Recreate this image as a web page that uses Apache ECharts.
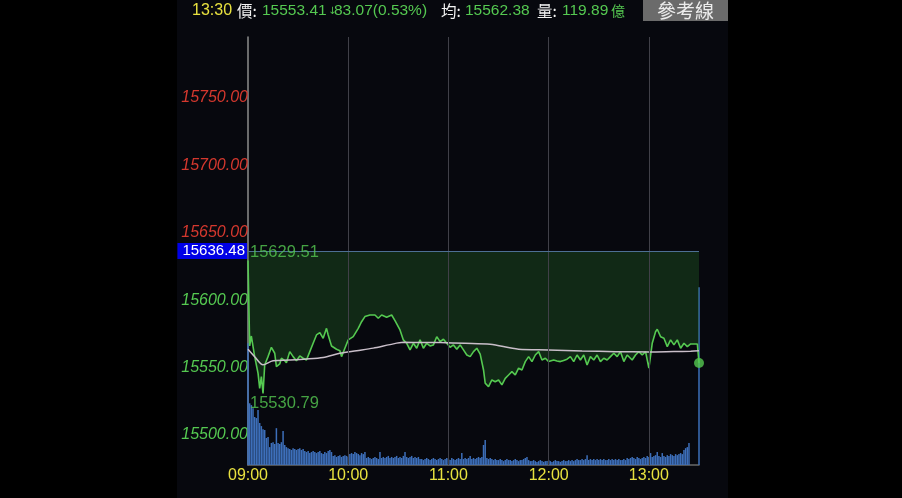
<!DOCTYPE html>
<html><head><meta charset="utf-8">
<script src="https://cdn.jsdelivr.net/npm/echarts@6/dist/echarts.min.js"></script>
<style>html,body{margin:0;padding:0;background:#000;}#c{width:902px;height:498px;}</style>
</head><body><div id="c"></div>
<script>
// ---- data ----
const refPrice = 15636.48;          // previous close (reference line)
const highPrice = 15629.51;
const lowPrice = 15530.79;
const closePrice = 15553.41;
const avgClose = 15562.38;
const changeText = '83.07(0.53%)';
const volumeTotal = '119.89';
const headerTime = '13:30';

const xTickMinutes = [0, 60, 120, 180, 240];
const xTickLabels = ['09:00', '10:00', '11:00', '12:00', '13:00'];
const yTicks = [15500, 15550, 15600, 15650, 15700, 15750];

// price line: minutes after 09:00 and index value
const priceMinute = [0,1,2,4,6,7,8,9,10,12,14,16,17,19,20,22,23,25,27,29,31,33,35,37,39,41,43,45,47,48,50,51,53,55,56,58,60,63,66,68,70,73,76,78,80,83,86,88,91,93,95,97,99,101,103,105,107,109,111,113,115,117,119,121,123,125,127,129,131,133,135,137,139,141,142,144,146,148,150,152,154,156,158,160,162,164,166,168,170,172,174,176,178,180,183,185,187,189,191,193,195,197,199,201,203,205,207,209,211,213,215,217,219,221,223,225,227,230,232,234,236,238,240,242,244,245,247,249,251,253,255,257,259,261,263,265,269,270];
const priceValue = [15629.51,15566,15573.4,15558.1,15545.8,15534.6,15543.3,15530.79,15551.9,15558.1,15565,15560.6,15550.7,15552.7,15556.9,15555.1,15553.6,15561.8,15558.1,15555.1,15558.6,15556.9,15555.6,15561.8,15568,15574.2,15575.9,15571.7,15579.1,15574.2,15566,15565.5,15563.6,15562.5,15558.1,15564.3,15570.5,15572.9,15579.1,15584,15587.8,15589,15589,15586.6,15589,15587.3,15589,15584.8,15577.9,15570.5,15568,15563.1,15568,15564.3,15570.5,15564.3,15568,15566,15566.8,15572.9,15569.2,15571,15568,15565,15566.8,15563.5,15566.8,15563.1,15559.3,15558.1,15561.8,15564.3,15560,15548.2,15538.4,15535.8,15540.8,15539.5,15540.8,15537.1,15542,15544.5,15547,15544.5,15549.5,15548.2,15554.4,15558.1,15554.4,15559.3,15561.8,15555.6,15556.9,15554.4,15555.6,15554.9,15554.4,15555.3,15556.2,15558.1,15554.4,15559.3,15555.6,15559.3,15551.9,15558.1,15555.6,15559.3,15554.4,15556.9,15555.6,15558.1,15560.6,15558.1,15561.8,15554.4,15559.3,15555.6,15559.3,15561.8,15559.3,15561.8,15549.5,15568,15576.6,15578.4,15572.9,15571.7,15565.5,15570.5,15566.8,15570.5,15564.3,15568,15565.5,15567.5,15567.5,15553.41];

// average price line
const avgMinute = [0,4,9,15,25,35,45,55,65,75,85,93,105,115,130,145,162,180,200,220,240,255,265,270];
const avgValue = [15563.5,15558,15552,15555.1,15555.6,15556.3,15557.5,15560.6,15562.5,15564.4,15567,15568.7,15568.6,15568.5,15568,15567.3,15563.6,15563.1,15562.3,15561.8,15561.6,15561.9,15562.1,15562.38];

// per-minute volume (億), minutes 0..264, then closing auction at 270
const volumeValue = [
4.69,2.38,2.31,2.19,1.85,1.81,2.12,1.62,1.50,1.38,
1.35,1.04,1.08,0.69,0.85,0.88,0.81,1.42,0.85,0.81,
0.88,1.31,0.77,0.69,0.65,0.62,0.58,0.65,0.62,0.58,
0.62,0.65,0.58,0.62,0.54,0.50,0.54,0.46,0.50,0.54,
0.50,0.46,0.50,0.54,0.46,0.42,0.50,0.46,0.54,0.58,
0.50,0.35,0.38,0.31,0.35,0.38,0.31,0.35,0.38,0.35,
0.31,0.42,0.46,0.42,0.50,0.46,0.42,0.38,0.46,0.42,
0.50,0.27,0.31,0.27,0.23,0.27,0.31,0.27,0.23,0.50,
0.27,0.31,0.27,0.31,0.35,0.27,0.31,0.27,0.31,0.35,
0.27,0.31,0.27,0.35,0.50,0.31,0.27,0.31,0.35,0.27,
0.31,0.27,0.31,0.23,0.23,0.19,0.23,0.27,0.23,0.19,
0.23,0.27,0.23,0.19,0.23,0.27,0.23,0.19,0.23,0.27,
0.23,0.19,0.27,0.23,0.19,0.23,0.27,0.23,0.46,0.23,
0.27,0.23,0.27,0.35,0.23,0.27,0.23,0.27,0.31,0.27,
0.31,0.77,0.96,0.27,0.23,0.27,0.23,0.19,0.23,0.19,
0.19,0.23,0.19,0.15,0.19,0.23,0.19,0.19,0.15,0.19,
0.23,0.19,0.15,0.19,0.19,0.23,0.27,0.31,0.19,0.15,
0.15,0.19,0.15,0.12,0.15,0.19,0.15,0.12,0.15,0.15,
0.19,0.15,0.12,0.15,0.19,0.15,0.15,0.12,0.15,0.19,
0.15,0.15,0.19,0.15,0.19,0.15,0.19,0.23,0.19,0.19,
0.23,0.19,0.23,0.38,0.19,0.23,0.19,0.23,0.19,0.23,
0.19,0.23,0.19,0.23,0.19,0.19,0.23,0.19,0.23,0.19,
0.23,0.19,0.23,0.19,0.19,0.23,0.19,0.27,0.23,0.27,
0.31,0.27,0.23,0.31,0.27,0.23,0.27,0.31,0.27,0.35,
0.31,0.46,0.31,0.35,0.38,0.50,0.35,0.31,0.46,0.35,
0.31,0.38,0.35,0.42,0.38,0.35,0.42,0.38,0.42,0.46,
0.42,0.58,0.65,0.69,0.85];
const closingVolumeMinute = 270;
const closingVolume = 6.85;

// ---- chart ----
const GREEN = '#55c951', RED = '#d4382e', YELLOW = '#e8e13f';
const pricePts = priceMinute.map((m, i) => [m, priceValue[i]]);
const avgPts = avgMinute.map((m, i) => [m, avgValue[i]]);
const volPts = volumeValue.map((v, i) => [i, v]).concat([[closingVolumeMinute, closingVolume]]);

const gridLines = yTicks.map(v => ({yAxis: v})).concat(xTickMinutes.slice(1).map(m => ({xAxis: m})));

const headerParts = [
  {t: headerTime, c: YELLOW, x: 192, f: 16, ff: 'Liberation Sans'},
  {t: '價:', c: '#f2f2f2', x: 237, f: 15.5, ff: 'Noto Sans CJK TC'},
  {t: closePrice.toFixed(2), c: GREEN, x: 262, f: 15.5, ff: 'Liberation Sans'},
  {t: '↓', c: GREEN, x: 328, f: 10, ff: 'DejaVu Sans'},
  {t: changeText, c: GREEN, x: 334, f: 15.5, ff: 'Liberation Sans'},
  {t: '均:', c: '#f2f2f2', x: 441, f: 15.5, ff: 'Noto Sans CJK TC'},
  {t: avgClose.toFixed(2), c: GREEN, x: 465, f: 15.5, ff: 'Liberation Sans'},
  {t: '量:', c: '#f2f2f2', x: 537, f: 15.5, ff: 'Noto Sans CJK TC'},
  {t: volumeTotal, c: GREEN, x: 562, f: 15.5, ff: 'Liberation Sans'},
  {t: '億', c: GREEN, x: 611, f: 14, ff: 'Noto Sans CJK TC'}
];
const graphics = headerParts.map(p => ({
  type: 'text', x: p.x, y: 11,
  style: {text: p.t, fill: p.c, fontSize: p.f, fontFamily: p.ff, verticalAlign: 'middle', align: 'left'}
}));
graphics.push({type: 'rect', shape: {x: 643, y: 0, width: 85, height: 21}, style: {fill: '#6b6b6b'}});
graphics.push({type: 'text', x: 685.5, y: 10.5, style: {text: '參考線', fill: '#ececec', fontSize: 19, fontFamily: 'Noto Sans CJK TC', align: 'center', verticalAlign: 'middle'}});

const chart = echarts.init(document.getElementById('c'));
chart.setOption({
  animation: false,
  backgroundColor: {
    type: 'linear', x: 0, y: 0, x2: 1, y2: 0,
    colorStops: [
      {offset: 0, color: '#000'}, {offset: 0.1962, color: '#000'},
      {offset: 0.1962, color: '#07080e'}, {offset: 0.807, color: '#07080e'},
      {offset: 0.807, color: '#000'}, {offset: 1, color: '#000'}
    ]
  },
  graphic: graphics,
  grid: {left: 248, right: 203, top: 37, bottom: 33},
  xAxis: {
    type: 'value', min: 0, max: 270, interval: 60,
    axisLine: {show: true, lineStyle: {color: '#6a6a6a', width: 1.5}},
    axisTick: {show: false},
    splitLine: {show: false},
    axisLabel: {
      color: YELLOW, fontSize: 16, fontFamily: 'Liberation Sans', margin: 3, showMaxLabel: false,
      formatter: v => { const i = xTickMinutes.indexOf(v); return i >= 0 ? xTickLabels[i] : ''; }
    }
  },
  yAxis: [{
    type: 'value', min: 15477.68, max: 15795.28, splitNumber: 5,
    axisLine: {show: true, lineStyle: {color: '#8c8c8c', width: 1.5}},
    axisTick: {show: false},
    splitLine: {show: false},
    axisLabel: {
      showMinLabel: false, showMaxLabel: false, margin: 0,
      formatter: v => yTicks.indexOf(v) < 0 ? '' : (v > refPrice ? '{r|' : '{g|') + v.toFixed(2) + '}',
      rich: {
        r: {color: RED, fontSize: 16, fontStyle: 'italic', fontFamily: 'Liberation Sans'},
        g: {color: GREEN, fontSize: 16, fontStyle: 'italic', fontFamily: 'Liberation Sans'}
      }
    }
  }, {
    type: 'value', min: 0, max: 16.5, show: false
  }],
  series: [
    {
      type: 'bar', name: 'volume', xAxisIndex: 0, yAxisIndex: 1, data: volPts,
      barWidth: 1.5, clip: false, z: 1,
      itemStyle: {color: '#3d6fba'},
      markLine: {
        silent: true, symbol: ['none', 'none'], animation: false,
        label: {show: false},
        lineStyle: {color: '#404048', width: 1, type: 'solid'},
        data: gridLines
      }
    },
    {
      type: 'line', name: 'price', data: pricePts, showSymbol: false, symbol: 'none', z: 3,
      lineStyle: {color: GREEN, width: 1.6},
      areaStyle: {origin: refPrice, color: 'rgba(40,110,40,0.47)'},
      markLine: {
        silent: true, symbol: ['none', 'none'],
        lineStyle: {color: '#4d6f94', width: 1, type: 'solid'},
        label: {
          show: true, position: 'start', distance: 1, formatter: refPrice.toFixed(2),
          color: '#ffffff', backgroundColor: '#0000e6', padding: [1, 2, 0, 5],
          fontSize: 15, fontFamily: 'Liberation Sans'
        },
        data: [{yAxis: refPrice}]
      }
    },
    {
      type: 'line', name: 'average', data: avgPts, showSymbol: false, symbol: 'none', z: 4,
      smooth: 0.3,
      lineStyle: {color: '#c9bec9', width: 1.5}
    },
    {
      type: 'scatter', name: 'hilo', symbolSize: 0, z: 5, clip: false,
      data: [
        {value: [0, highPrice], label: {offset: [0, -8]}},
        {value: [0, lowPrice], label: {offset: [0, 10]}}
      ],
      label: {
        show: true, position: 'right', distance: 2, color: GREEN, fontSize: 16.5, fontFamily: 'Liberation Sans',
        formatter: p => p.value[1].toFixed(2)
      }
    },
    {
      type: 'scatter', name: 'last', symbolSize: 10, z: 6, clip: false,
      itemStyle: {color: GREEN},
      data: [[270, closePrice]]
    }
  ]
});
</script>
</body></html>
